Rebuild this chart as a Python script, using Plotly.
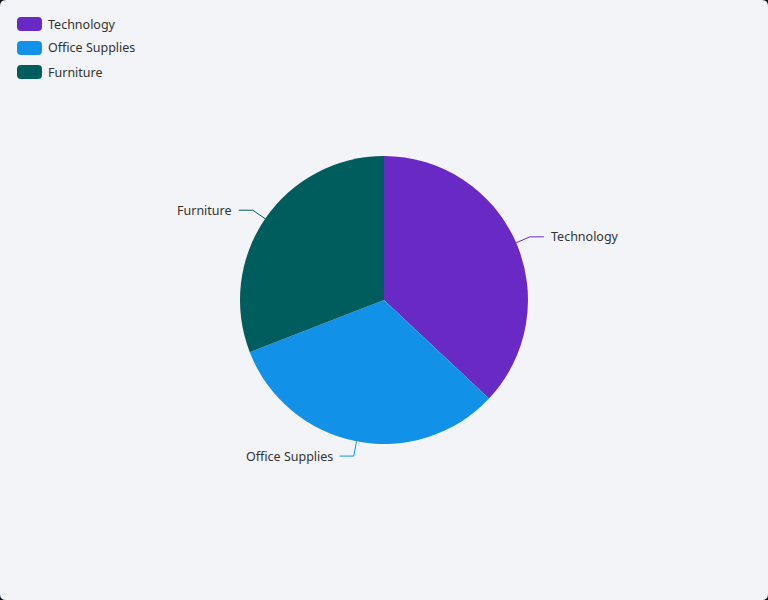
import math
import plotly.graph_objects as go

categories = ["Technology", "Office Supplies", "Furniture"]
values = [37.0, 32.1, 30.9]
colors = ["#6929c4", "#1192e8", "#005d5d"]

W, H = 768, 600
CX, CY, R = 384, 300, 144
BG = "#f2f4f8"
TEXT = "#333333"
FONT = "Noto Sans, Open Sans, sans-serif"
FS = 12.5

fig = go.Figure()
fig.add_trace(go.Pie(
    labels=categories,
    values=values,
    sort=False,
    direction="clockwise",
    rotation=0,
    marker=dict(colors=colors, line=dict(width=0)),
    textinfo="none",
    hoverinfo="label+value+percent",
    showlegend=False,
    domain=dict(x=[(CX - R) / W, (CX + R) / W], y=[1 - (CY + R) / H, 1 - (CY - R) / H]),
))

def px(x):
    return x / W

def py(y):
    return 1 - y / H

shapes = []
annotations = []

# background rounded rectangle
rr = 6
shapes.append(dict(
    type="path", xref="paper", yref="paper", layer="below",
    path=(f"M {px(rr)} {py(0)} L {px(W - rr)} {py(0)} Q {px(W)} {py(0)} {px(W)} {py(rr)} "
          f"L {px(W)} {py(H - rr)} Q {px(W)} {py(H)} {px(W - rr)} {py(H)} "
          f"L {px(rr)} {py(H)} Q {px(0)} {py(H)} {px(0)} {py(H - rr)} "
          f"L {px(0)} {py(rr)} Q {px(0)} {py(0)} {px(rr)} {py(0)} Z"),
    fillcolor=BG, line=dict(width=0),
))

# leader lines and labels computed from the data
total = sum(values)
cum = 0.0
L1, L2 = 15, 14
for cat, val, col in zip(categories, values, colors):
    mid = (cum + val / 2) / total * 2 * math.pi
    cum += val
    sx, sy = math.sin(mid), -math.cos(mid)
    x0, y0 = CX + R * sx, CY + R * sy
    x1, y1 = CX + (R + L1) * sx, CY + (R + L1) * sy
    right = sx >= 0
    x2 = x1 + (L2 if right else -L2)
    shapes.append(dict(
        type="path", xref="paper", yref="paper",
        path=f"M {px(x0)} {py(y0)} L {px(x1)} {py(y1)} L {px(x2)} {py(y1)}",
        line=dict(color=col, width=1),
    ))
    annotations.append(dict(
        xref="paper", yref="paper",
        x=px(x2 + (5 if right else -5)), y=py(y1),
        xanchor="left" if right else "right", yanchor="middle",
        text=cat, showarrow=False,
        font=dict(family=FONT, size=FS, color=TEXT),
    ))

# custom legend
for i, (cat, col) in enumerate(zip(categories, colors)):
    yc = 24 + 24 * i
    x0, x1 = 17, 42
    y0, y1 = yc - 7, yc + 7
    r = 4
    shapes.append(dict(
        type="path", xref="paper", yref="paper",
        path=(f"M {px(x0 + r)} {py(y0)} L {px(x1 - r)} {py(y0)} Q {px(x1)} {py(y0)} {px(x1)} {py(y0 + r)} "
              f"L {px(x1)} {py(y1 - r)} Q {px(x1)} {py(y1)} {px(x1 - r)} {py(y1)} "
              f"L {px(x0 + r)} {py(y1)} Q {px(x0)} {py(y1)} {px(x0)} {py(y1 - r)} "
              f"L {px(x0)} {py(y0 + r)} Q {px(x0)} {py(y0)} {px(x0 + r)} {py(y0)} Z"),
        fillcolor=col, line=dict(width=0),
    ))
    annotations.append(dict(
        xref="paper", yref="paper", x=px(46), y=py(yc),
        xanchor="left", yanchor="middle", text=cat, showarrow=False,
        font=dict(family=FONT, size=FS, color=TEXT),
    ))

fig.update_layout(
    width=W, height=H,
    margin=dict(l=0, r=0, t=0, b=0),
    paper_bgcolor="#0b0f19",
    plot_bgcolor=BG,
    shapes=shapes,
    annotations=annotations,
    showlegend=False,
    font=dict(family=FONT, size=FS, color=TEXT),
)

fig.write_html(
    "out.html",
    config={"displayModeBar": False},
    post_script="document.body.style.margin='0';document.body.style.padding='0';document.body.style.background='#0b0f19';",
)
